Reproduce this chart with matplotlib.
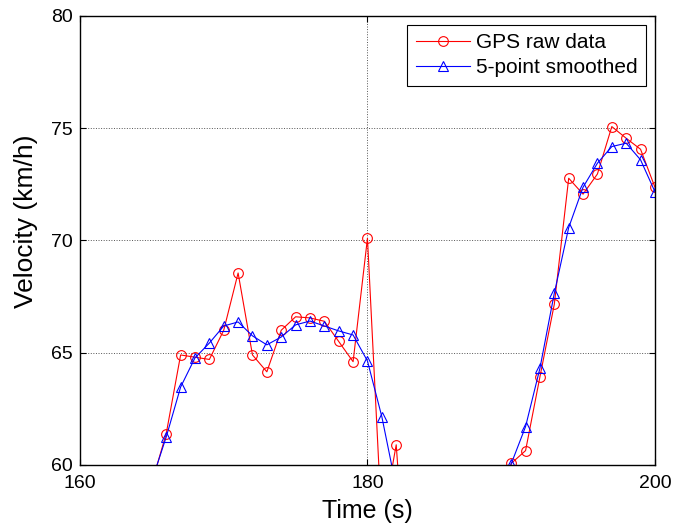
import numpy as np
import matplotlib
matplotlib.use('Agg')
import matplotlib.pyplot as plt
from matplotlib import rcParams

rcParams['font.family'] = ['Liberation Sans', 'DejaVu Sans']

# time stamps (s)
t = np.arange(165, 201)

# GPS raw speed (km/h), values below 60 fall outside the view
raw = [59.2, 61.4, 64.9, 64.8, 64.7, 66.0, 68.55, 64.9, 64.15, 66.0,
       66.6, 66.55, 66.4, 65.5, 64.6, 70.1, 57.3, 60.9, 52.0, 48.0,
       45.0, 44.0, 46.0, 50.0, 56.0, 60.07, 60.64, 63.93, 67.16, 72.77,
       72.06, 72.96, 75.07, 74.55, 74.06, 72.37]

# 5-point smoothed speed (km/h)
smooth = [59.3, 61.25, 63.47, 64.77, 65.43, 66.19, 66.37, 65.75, 65.35, 65.7,
          66.24, 66.41, 66.19, 65.97, 65.79, 64.63, 62.15, 59.0, 56.0, 53.0,
          50.0, 49.0, 51.0, 54.0, 58.0, 60.05, 61.71, 64.31, 67.65, 70.57,
          72.37, 73.44, 74.18, 74.33, 73.59, 72.17]

xticks = [160, 180, 200]
yticks = [60, 65, 70, 75, 80]

fig = plt.figure(figsize=(6.74, 5.29), dpi=100)
ax = fig.add_axes([0.1187, 0.121, 0.853, 0.849])

ax.plot(t, raw, '-o', color='red', lw=0.8, markersize=7,
        markerfacecolor='none', markeredgewidth=0.8, label='GPS raw data')
ax.plot(t, smooth, '-^', color='blue', lw=0.8, markersize=7,
        markerfacecolor='none', markeredgewidth=0.8, label='5-point smoothed')

ax.set_xlim(160, 200)
ax.set_ylim(60, 80)
ax.set_xticks(xticks)
ax.set_yticks(yticks)
ax.tick_params(direction='in', labelsize=14, length=4, width=0.8,
               top=True, right=True)
ax.tick_params(axis='x', pad=7)
ax.tick_params(axis='y', pad=5)
ax.grid(True, color='#555555', linestyle=':', lw=0.7)
for s in ax.spines.values():
    s.set_linewidth(1.0)

ax.set_xlabel('Time (s)', fontsize=18)
ax.set_ylabel('Velocity (km/h)', fontsize=19)
ax.xaxis.set_label_coords(0.5, -0.076)
ax.yaxis.set_label_coords(-0.073, 0.542)

leg = ax.legend(loc='upper right', fontsize=15, handlelength=2.6,
                fancybox=False, framealpha=1, edgecolor='black',
                borderaxespad=0.42, borderpad=0.4, labelspacing=0.3,
                handletextpad=0.3)
leg.get_frame().set_linewidth(0.8)

fig.savefig('out.png', dpi=100)
